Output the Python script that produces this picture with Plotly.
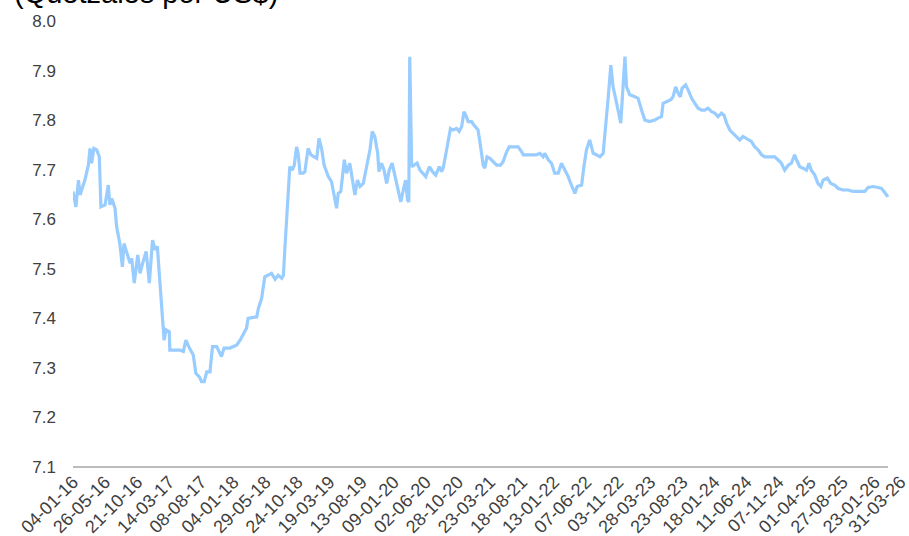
import plotly.graph_objects as go

# Business-day index of each sampled observation
day_index = [0, 9, 17, 22, 37, 48, 53, 58, 65, 74, 82, 87, 100, 110, 115, 121, 131, 136, 146, 154,
             159, 169, 178, 183, 191, 202, 209, 217, 228, 238, 248, 256, 263, 269, 276, 284, 290, 300, 302, 313,
             334, 344, 352, 363, 375, 383, 394, 401, 409, 417, 427, 435, 448, 463, 471, 489, 500, 510, 521, 541,
             546, 573, 578, 588, 598, 619, 630, 640, 651, 656, 661, 669, 676, 684, 690, 697, 702, 708, 718, 723,
             733, 742, 752, 760, 767, 775, 783, 796, 806, 814, 822, 827, 835, 846, 853, 863, 871, 879, 887, 895,
             905, 915, 926, 933, 941, 950, 954, 962, 970, 978, 986, 995, 1004, 1014, 1022, 1030, 1037, 1043, 1047, 1050,
             1056, 1063, 1073, 1082, 1092, 1100, 1111, 1121, 1131, 1142, 1149, 1154, 1163, 1170, 1177, 1185, 1196, 1204, 1212, 1219,
             1225, 1232, 1243, 1250, 1258, 1263, 1271, 1279, 1284, 1291, 1300, 1310, 1321, 1333, 1341, 1352, 1360, 1372, 1388, 1399,
             1404, 1419, 1430, 1445, 1456, 1466, 1471, 1482, 1492, 1502, 1513, 1523, 1534, 1544, 1554, 1565, 1572, 1586, 1593, 1601,
             1611, 1622, 1632, 1643, 1653, 1658, 1664, 1669, 1677, 1684, 1695, 1703, 1708, 1715, 1721, 1726, 1736, 1752, 1762, 1773,
             1783, 1798, 1814, 1824, 1835, 1840, 1851, 1864, 1871, 1879, 1887, 1894, 1899, 1910, 1918, 1929, 1939, 1949, 1960, 1970,
             1980, 1991, 2001, 2011, 2022, 2030, 2038, 2048, 2058, 2069, 2079, 2089, 2100, 2115, 2126, 2136, 2147, 2157, 2173, 2188,
             2198, 2209, 2219, 2230, 2240, 2250, 2256, 2266, 2276, 2287, 2295, 2302, 2313, 2323, 2332, 2339, 2352, 2363, 2375, 2386,
             2401, 2417, 2432, 2448, 2469, 2479, 2495, 2510, 2521, 2531, 2541]

# Quetzales per US$
rate = [7.656, 7.625, 7.679, 7.649, 7.679, 7.709, 7.743, 7.713, 7.743, 7.740, 7.726, 7.625, 7.629, 7.669, 7.629, 7.642, 7.622, 7.585, 7.551, 7.504,
        7.551, 7.531, 7.511, 7.521, 7.471, 7.528, 7.491, 7.511, 7.535, 7.471, 7.558, 7.538, 7.545, 7.491, 7.430, 7.356, 7.377, 7.373, 7.336, 7.336,
        7.336, 7.333, 7.356, 7.340, 7.326, 7.289, 7.282, 7.272, 7.272, 7.292, 7.292, 7.343, 7.343, 7.323, 7.340, 7.340, 7.343, 7.346, 7.356, 7.380,
        7.400, 7.403, 7.420, 7.440, 7.484, 7.491, 7.479, 7.487, 7.481, 7.487, 7.545, 7.645, 7.706, 7.699, 7.709, 7.746, 7.733, 7.693, 7.693, 7.696,
        7.743, 7.730, 7.726, 7.723, 7.763, 7.743, 7.709, 7.686, 7.676, 7.645, 7.622, 7.652, 7.656, 7.720, 7.693, 7.713, 7.679, 7.649, 7.679, 7.666,
        7.672, 7.706, 7.740, 7.777, 7.767, 7.733, 7.696, 7.713, 7.699, 7.672, 7.699, 7.713, 7.686, 7.652, 7.635, 7.659, 7.679, 7.639, 7.635, 7.928,
        7.706, 7.709, 7.713, 7.699, 7.693, 7.686, 7.706, 7.696, 7.689, 7.706, 7.696, 7.703, 7.733, 7.760, 7.783, 7.780, 7.783, 7.777, 7.787, 7.817,
        7.810, 7.797, 7.797, 7.790, 7.783, 7.780, 7.746, 7.709, 7.703, 7.726, 7.723, 7.716, 7.709, 7.709, 7.716, 7.736, 7.746, 7.746, 7.746, 7.736,
        7.730, 7.730, 7.730, 7.730, 7.733, 7.726, 7.733, 7.720, 7.713, 7.693, 7.693, 7.713, 7.699, 7.686, 7.669, 7.652, 7.666, 7.669, 7.706, 7.740,
        7.760, 7.733, 7.730, 7.726, 7.733, 7.767, 7.797, 7.847, 7.911, 7.867, 7.834, 7.807, 7.794, 7.867, 7.928, 7.867, 7.851, 7.847, 7.844, 7.820,
        7.800, 7.797, 7.800, 7.804, 7.807, 7.834, 7.837, 7.841, 7.847, 7.867, 7.854, 7.847, 7.864, 7.871, 7.861, 7.844, 7.834, 7.824, 7.820, 7.820,
        7.824, 7.817, 7.814, 7.807, 7.814, 7.810, 7.794, 7.780, 7.773, 7.767, 7.760, 7.767, 7.763, 7.757, 7.746, 7.740, 7.730, 7.726, 7.726, 7.726,
        7.720, 7.713, 7.699, 7.709, 7.713, 7.730, 7.720, 7.706, 7.703, 7.699, 7.713, 7.699, 7.689, 7.672, 7.666, 7.679, 7.683, 7.672, 7.669, 7.662,
        7.659, 7.659, 7.656, 7.656, 7.656, 7.664, 7.666, 7.664, 7.662, 7.654, 7.645]

# X tick labels (every 100 business days; the closing label sits just past the last observation)
tick_pos = [0, 100, 200, 300, 400, 500, 600, 700, 800, 900, 1000, 1100, 1200, 1300, 1400, 1500, 1600, 1700,
            1800, 1900, 2000, 2100, 2200, 2300, 2400, 2500, 2580]
tick_labels = ["04-01-16", "26-05-16", "21-10-16", "14-03-17", "08-08-17", "04-01-18", "29-05-18", "24-10-18",
               "19-03-19", "13-08-19", "09-01-20", "02-06-20", "28-10-20", "23-03-21", "18-08-21", "13-01-22",
               "07-06-22", "03-11-22", "28-03-23", "23-08-23", "18-01-24", "11-06-24", "07-11-24", "01-04-25",
               "27-08-25", "23-01-26", "31-03-26"]

y_ticks = [7.1, 7.2, 7.3, 7.4, 7.5, 7.6, 7.7, 7.8, 7.9, 8.0]
title_text = "(Quetzales por US$)"

x_end = 2588

fig = go.Figure()
fig.add_trace(go.Scatter(
    x=day_index, y=rate, mode="lines",
    line=dict(color="#99CCFF", width=3.2),
    hoverinfo="skip", showlegend=False,
))

# horizontal axis line spanning the observed data
fig.add_shape(type="line", xref="paper", yref="paper",
              x0=day_index[0] / x_end, x1=day_index[-1] / x_end, y0=0, y1=0,
              line=dict(color="#A6A6A6", width=1.5), layer="above")

fig.update_layout(
    width=909, height=536,
    margin=dict(l=73, r=6, t=21, b=69, autoexpand=False),
    paper_bgcolor="white", plot_bgcolor="white",
    font=dict(family="Liberation Sans, Arial, sans-serif", color="#404040", size=16),
    xaxis=dict(
        range=[0, x_end], automargin=False,
        tickmode="array", tickvals=tick_pos, ticktext=tick_labels,
        tickangle=-45, showgrid=False, zeroline=False,
        showline=False, ticklabeloverflow="allow",
        ticks="", tickfont=dict(size=18, color="#404040"),
    ),
    yaxis=dict(
        range=[7.1, 8.0], automargin=False,
        tickmode="array", tickvals=y_ticks, ticktext=[f"{v:.1f}" for v in y_ticks],
        showgrid=False, zeroline=False, showline=False,
        ticks="", ticklabelstandoff=16,
        tickfont=dict(size=17, color="#404040"),
    ),
    annotations=[dict(
        text=title_text, xref="paper", yref="paper",
        x=(12 - 73) / 830, y=1.063, xanchor="left", yanchor="middle",
        showarrow=False, font=dict(size=29, color="black"),
    )],
)

fig.write_html("out.html", config={"displayModeBar": False, "staticPlot": True},
               post_script="document.body.style.margin='0px';")
